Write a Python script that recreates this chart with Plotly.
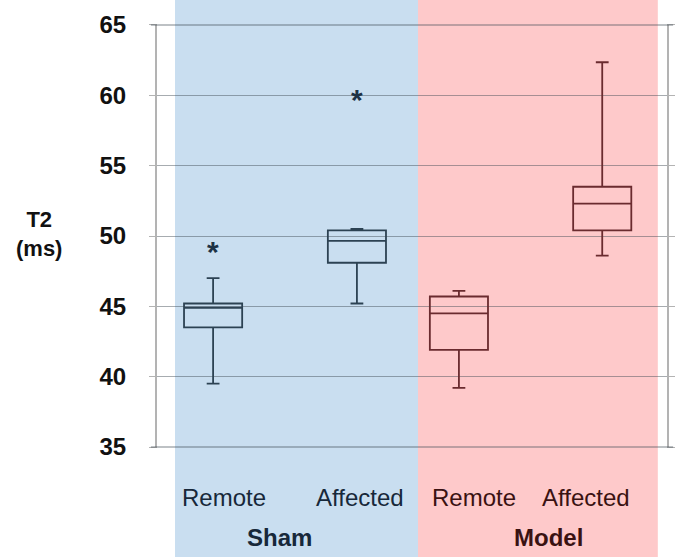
import plotly.graph_objects as go

# T2 values (ms)
groups = ["Sham", "Sham", "Model", "Model"]
regions = ["Remote", "Affected", "Remote", "Affected"]
lower = [39.5, 45.2, 39.2, 48.6]
q1 = [43.5, 48.1, 41.9, 50.4]
median = [44.9, 49.65, 44.5, 52.3]
q3 = [45.2, 50.4, 45.7, 53.5]
upper = [47.0, 50.5, 46.1, 62.35]

outlier_box = [0, 1]          # index of the box each outlier belongs to
outlier_y = [49.2, 60.0]

y_ticks = [35, 40, 45, 50, 55, 60, 65]
y_range = [34.93, 65.07]

# layout positions (x axis runs 0..1 across the plot area)
box_pos = [0.11, 0.392, 0.592, 0.873]
label_pos = [0.131, 0.398, 0.622, 0.841]
group_pos = {"Sham": 0.241, "Model": 0.767}
line_col = {"Sham": "#2c4253", "Model": "#6a2b2f"}
text_col = {"Sham": "#17283a", "Model": "#3a1212"}
FONT = "Liberation Sans, Arial, sans-serif"
GRID = "rgba(60,70,80,0.45)"

fig = go.Figure()

for i in range(len(regions)):
    g = groups[i]
    fig.add_trace(go.Box(
        x=[box_pos[i]],
        q1=[q1[i]], median=[median[i]], q3=[q3[i]],
        lowerfence=[lower[i]], upperfence=[upper[i]],
        width=0.114,
        whiskerwidth=0.22,
        fillcolor="rgba(0,0,0,0)",
        line=dict(color=line_col[g], width=1.8),
        boxpoints=False,
        hoverinfo="skip",
        showlegend=False,
    ))

# coloured group backgrounds
shapes = [
    dict(type="rect", xref="paper", yref="paper", x0=0.0353, x1=0.5118,
         y0=-0.27, y1=1.07, fillcolor="#c9def0", line=dict(width=0), layer="below"),
    dict(type="rect", xref="paper", yref="paper", x0=0.5118, x1=0.982,
         y0=-0.27, y1=1.07, fillcolor="#fec9ca", line=dict(width=0), layer="below"),
]
# grid lines at the ends of the axis (plotly leaves these out)
for v in (y_ticks[0], y_ticks[-1]):
    frac = (v - y_range[0]) / (y_range[1] - y_range[0])
    shapes.append(dict(type="line", xref="paper", yref="paper", x0=-0.012, x1=1.012,
                       y0=frac, y1=frac, line=dict(color=GRID, width=1.3)))

annotations = []
# outliers drawn as asterisks
for b, yv in zip(outlier_box, outlier_y):
    annotations.append(dict(
        x=box_pos[b], y=yv, xref="x", yref="y", text="<b>*</b>", showarrow=False,
        xanchor="center", yanchor="middle",
        yshift=-4, font=dict(family=FONT, size=30, color="#1e3346"),
    ))
for i in range(len(regions)):
    annotations.append(dict(
        x=label_pos[i], y=-0.116, xref="x", yref="paper", text=regions[i],
        xanchor="center", yanchor="middle",
        showarrow=False, font=dict(family=FONT, size=24, color=text_col[groups[i]]),
    ))
for g, px in group_pos.items():
    annotations.append(dict(
        x=px, y=-0.211, xref="x", yref="paper", text=f"<b>{g}</b>",
        xanchor="center", yanchor="middle",
        showarrow=False, font=dict(family=FONT, size=24, color=text_col[g]),
    ))
annotations.append(dict(
    x=-0.231, y=0.505, xref="paper", yref="paper", text="<b>T2<br>(ms)</b>",
    xanchor="center", yanchor="middle",
    showarrow=False, align="center", font=dict(family=FONT, size=22, color="#111111"),
))

fig.update_layout(
    width=685, height=557,
    margin=dict(l=157, r=18, t=24, b=109),
    paper_bgcolor="white",
    plot_bgcolor="rgba(0,0,0,0)",
    shapes=shapes,
    annotations=annotations,
    xaxis=dict(range=[0, 1], showgrid=False, zeroline=False, showline=False,
               showticklabels=False, ticks="", automargin=False),
    yaxis=dict(
        range=y_range, tickvals=y_ticks, automargin=False,
        showgrid=True, gridcolor=GRID, gridwidth=1.3,
        zeroline=False,
        showline=True, linecolor="#b3b3b3", linewidth=2, mirror="ticks",
        ticks="outside", ticklen=6, tickcolor="#b3b3b3", tickwidth=1.3,
        ticklabelstandoff=18,
        tickfont=dict(family=FONT, size=24, color="#111111", weight="bold"),
    ),
)

# drop the default page margin so the figure sits at the window's corner
fig.write_html("out.html", config={"displayModeBar": False},
               post_script="document.body.style.margin='0';")
